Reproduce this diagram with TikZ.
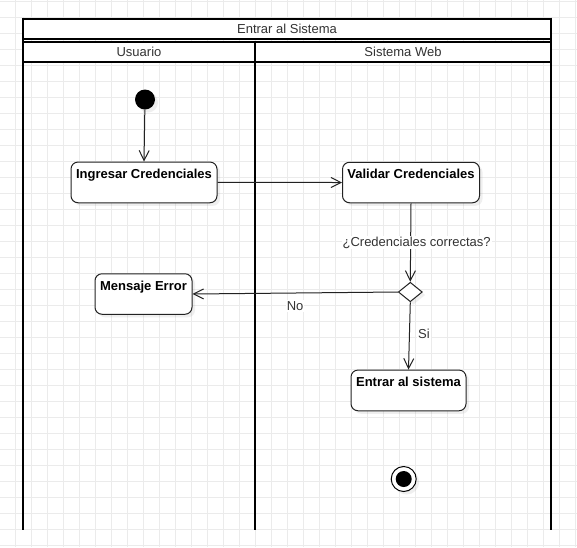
\documentclass[tikz,border=0pt]{standalone}
\usepackage{fontspec}
\setmainfont{Liberation Sans}
\usetikzlibrary{arrows.meta,shapes.geometric,shadows}
\definecolor{gridc}{HTML}{EBEBEB}
\definecolor{ink}{HTML}{222222}
\definecolor{txt}{HTML}{333333}
\begin{document}
\begin{tikzpicture}[x=1pt,y=-1pt,
  poolline/.style={line width=2pt,black},
  act/.style={draw=ink,line width=1pt,rounded corners=7pt,fill=white,
    font=\fontsize{13}{15}\selectfont\bfseries,text=black,
    inner xsep=0pt,inner ysep=0pt,text height=16.5pt,
    drop shadow={shadow xshift=3pt,shadow yshift=-3pt,opacity=0.12}},
  hdr/.style={font=\fontsize{13}{15}\selectfont,text=txt,inner sep=0pt},
  lbl/.style={font=\fontsize{13}{15}\selectfont,text=txt,fill=white,inner sep=1pt},
  flow/.style={draw=ink,line width=1pt,-{Straight Barb[length=10pt,width=10pt,line width=1pt]}}
]
\useasboundingbox (0,0) rectangle (577,547);
\fill[white] (0,0) rectangle (577,547);
% grid
\foreach \x in {-1,15,...,575} \draw[gridc,line width=1pt] (\x,0) -- (\x,547);
\foreach \y in {1.5,17.5,...,546} \draw[gridc,line width=1pt] (0,\y) -- (577,\y);
% pool
\fill[white] (23,18.5) rectangle (551,39);
\fill[white] (23,42) rectangle (551,62);
\draw[poolline] (23,18.5) -- (551,18.5);
\draw[poolline] (23,39) -- (551,39);
\draw[poolline] (23,42) -- (551,42);
\draw[poolline] (23,62) -- (551,62);
\draw[poolline] (23,17.5) -- (23,530);
\draw[poolline] (551,17.5) -- (551,530);
\draw[poolline] (255,42) -- (255,530);
\node[hdr] (title) at (287,28.5) {Entrar al Sistema};
\node[hdr] (lane1) at (139,52) {Usuario};
\node[hdr] (lane2) at (403,52) {Sistema Web};
% nodes
\node[circle,fill=black,minimum size=20pt,inner sep=0pt,
  drop shadow={shadow xshift=3pt,shadow yshift=-3pt,opacity=0.12}] (start) at (145,99.5) {};
\node[act,minimum width=146pt,text depth=24.2pt] (ingresar) at (144,182.4) {Ingresar Credenciales};
\node[act,minimum width=137pt,text depth=24pt] (validar) at (411,182.5) {Validar Credenciales};
\node[diamond,draw=ink,line width=1pt,fill=white,minimum width=24pt,minimum height=19.5pt,inner sep=0pt,
  drop shadow={shadow xshift=3pt,shadow yshift=-3pt,opacity=0.12}] (decision) at (410.3,292) {};
\node[act,minimum width=97pt,text depth=24pt] (mensaje) at (143.5,294) {Mensaje Error};
\node[act,minimum width=115pt,text depth=24.2pt] (entrar) at (408.5,390.4) {Entrar al sistema};
\node[circle,draw=black,line width=1pt,fill=white,minimum size=25pt,inner sep=0pt,
  drop shadow={shadow xshift=3pt,shadow yshift=-3pt,opacity=0.12},
  path picture={\fill[black] (path picture bounding box.center) circle (8pt);}] (final) at (403.7,479) {};
% edges
\draw[flow] (start) -- (ingresar.north);
\draw[flow] (ingresar.east) -- (validar.west);
\draw[flow] (validar.south) -- (decision.north)
  node[lbl,pos=0.5,xshift=6pt] (q) {¿Credenciales correctas?};
\draw[flow] (decision.west) -- (mensaje.east)
  node[lbl,pos=0.5,yshift=-13pt] (no) {No};
\draw[flow] (decision.south) -- (entrar.north)
  node[lbl,pos=0.5,xshift=14.5pt,yshift=2pt] (si) {Si};
\end{tikzpicture}
\end{document}
